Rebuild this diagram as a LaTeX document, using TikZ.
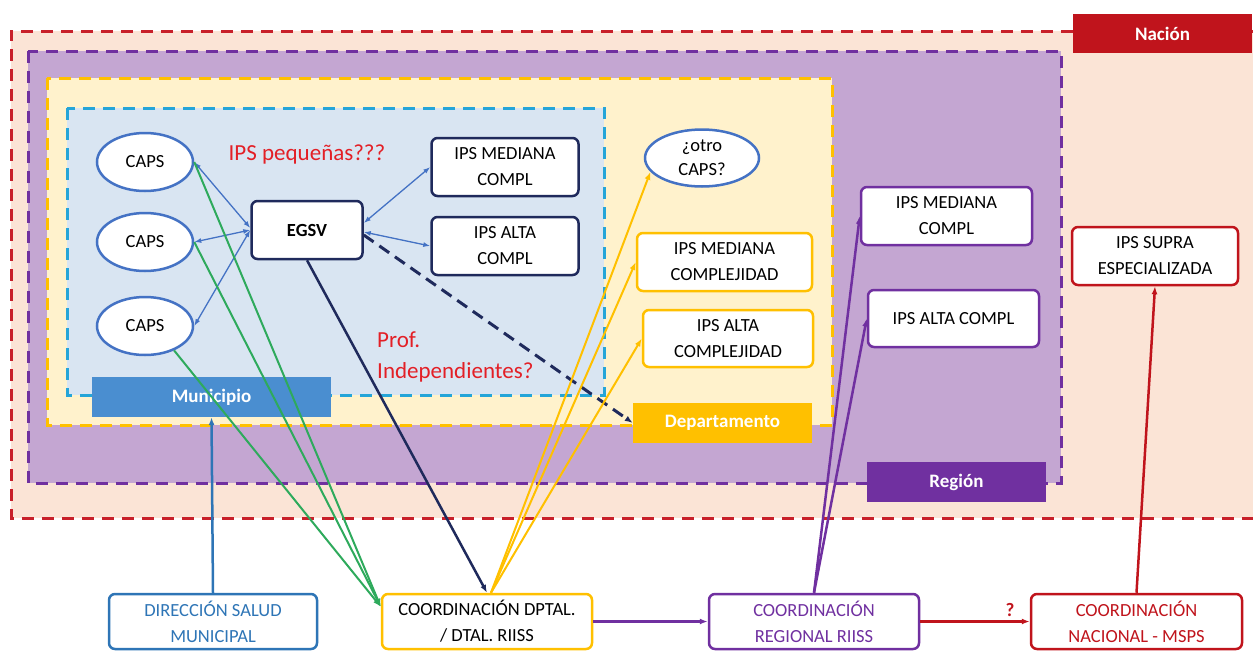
\documentclass[tikz,border=0pt]{standalone}
\usepackage{fontspec}
\setmainfont{Carlito}
\usetikzlibrary{arrows.meta,shapes.geometric}
\definecolor{peach}{HTML}{FBE4D6}
\definecolor{lav}{HTML}{C4A6D2}
\definecolor{ylight}{HTML}{FFF2CC}
\definecolor{blight}{HTML}{D9E5F2}
\definecolor{redd}{HTML}{C8202A}
\definecolor{purp}{HTML}{7030A0}
\definecolor{gold}{HTML}{FFC000}
\definecolor{cyand}{HTML}{25A5D8}
\definecolor{munib}{HTML}{4A8ED0}
\definecolor{navy}{HTML}{1F2A5C}
\definecolor{capsb}{HTML}{4472C4}
\definecolor{dirb}{HTML}{2E75B6}
\definecolor{grn}{HTML}{2EAA5C}
\definecolor{txtred}{HTML}{E31F26}
\definecolor{natred}{HTML}{C0141C}
\begin{document}
\begin{tikzpicture}[x=1pt,y=-1pt,
  zoneline/.style={line width=3pt,dash pattern=on 12pt off 8pt},
  tag/.style={inner sep=0pt,text=white,font=\fontsize{19}{22}\selectfont\bfseries},
  boxn/.style={draw,fill=white,rounded corners=6pt,line width=2.5pt,inner sep=0pt,align=center,font=\fontsize{18.5}{26}\selectfont},
  capsn/.style={ellipse,draw=capsb,fill=white,line width=2.5pt,inner sep=0pt,align=center,font=\fontsize{18.5}{24}\selectfont,minimum width=96pt,minimum height=58pt},
  tip/.style={-{Latex[length=8pt,width=6pt]}},
  bitip/.style={{Latex[length=7pt,width=5pt]}-{Latex[length=7pt,width=5pt]}},
  redtxt/.style={text=txtred,font=\fontsize{23}{31}\selectfont,inner sep=0pt}
]
\useasboundingbox (0,0) rectangle (1253,651);
% zones
\fill[peach] (11,31) rectangle (1253,518);
\draw[zoneline,draw=redd] (1253,31) -- (11,31) -- (11,518) -- (1253,518);
\filldraw[zoneline,draw=purp,fill=lav] (28,51) rectangle (1061,483);
\filldraw[zoneline,draw=gold,fill=ylight] (47,78) rectangle (832,425);
\filldraw[zoneline,draw=cyand,fill=blight] (67,108) rectangle (604,395);
% zone tags
\node[tag,fill=natred,minimum width=179pt,minimum height=39pt] (nacion) at (1162.5,33.5) {Nación};
\node[tag,fill=purp,minimum width=179pt,minimum height=40pt] (region) at (956.5,482) {Región};
\node[tag,fill=gold,minimum width=179pt,minimum height=40pt] (dep) at (722.5,423) {Departamento};
\node[tag,fill=munib,minimum width=239pt,minimum height=40pt] (muni) at (211.5,397) {Municipio};
% municipio contents
\node[capsn] (c1) at (145,162) {CAPS};
\node[capsn] (c2) at (145,242) {CAPS};
\node[capsn] (c3) at (145,326) {CAPS};
\node[boxn,draw=navy,minimum width=111pt,minimum height=58pt,font=\fontsize{18.5}{22}\selectfont\bfseries] (egsv) at (307,230) {EGSV};
\node[boxn,draw=navy,minimum width=147pt,minimum height=58pt] (mm) at (505,167) {IPS MEDIANA\\COMPL};
\node[boxn,draw=navy,minimum width=147pt,minimum height=58pt] (ma) at (505,246) {IPS ALTA\\COMPL};
\node[redtxt] (peq) at (307,154) {IPS pequeñas???};
\node[redtxt,align=left,anchor=west] (prof) at (377,357) {Prof.\\Independientes?};
% departamento contents
\node[capsn,minimum width=114pt,minimum height=57pt] (otro) at (702,158) {¿otro\\CAPS?};
\node[boxn,draw=gold,minimum width=175pt,minimum height=58pt] (dm) at (724.5,262) {IPS MEDIANA\\COMPLEJIDAD};
\node[boxn,draw=gold,minimum width=170pt,minimum height=57pt] (da) at (728,338.5) {IPS ALTA\\COMPLEJIDAD};
% region contents
\node[boxn,draw=purp,minimum width=171pt,minimum height=58pt] (rm) at (946.5,216) {IPS MEDIANA\\COMPL};
\node[boxn,draw=purp,minimum width=171pt,minimum height=57pt] (ra) at (953.5,318.5) {IPS ALTA COMPL};
% nacion contents
\node[boxn,draw=natred,minimum width=166pt,minimum height=58pt] (supra) at (1155,256) {IPS SUPRA\\ESPECIALIZADA};
% bottom row
\node[boxn,draw=dirb,text=dirb,minimum width=208pt,minimum height=55pt] (dir) at (213,621.5) {DIRECCIÓN SALUD\\MUNICIPAL};
\node[boxn,draw=gold,minimum width=210pt,minimum height=55pt] (cdep) at (487,621.5) {COORDINACIÓN DPTAL.\\/ DTAL. RIISS};
\node[boxn,draw=purp,text=purp,minimum width=210pt,minimum height=55pt] (creg) at (814,621.5) {COORDINACIÓN\\REGIONAL RIISS};
\node[boxn,draw=natred,text=natred,minimum width=211pt,minimum height=55pt] (cnac) at (1136.5,621.5) {COORDINACIÓN\\NACIONAL - MSPS};
\coordinate (gin) at ([yshift=-14pt]cdep.north west);
% blue double arrows
\begin{scope}[draw=capsb,line width=1.3pt]
\draw[bitip] (c1.east) -- ([yshift=2pt]egsv.west);
\draw[bitip] (c2.east) -- (egsv.west);
\draw[bitip] (c3.east) -- (egsv.west);
\draw[bitip] ([yshift=7pt]egsv.east) -- (mm.west);
\draw[bitip] ([yshift=-2pt]egsv.east) -- (ma.west);
\end{scope}
% green
\begin{scope}[draw=grn,line width=2pt]
\draw[tip] (c1.east) -- (gin);
\draw[tip] (c2.east) -- (gin);
\draw[tip] (c3.-40) -- (gin);
\end{scope}
% navy
\draw[tip,draw=navy,line width=2.5pt] (egsv.south) -- (cdep.north);
\draw[tip,draw=navy,line width=3pt,dash pattern=on 12pt off 7pt] ([yshift=-5pt]egsv.east) -- (dep.west);
% yellow
\begin{scope}[draw=gold,line width=2pt]
\draw[tip] ([xshift=4pt]cdep.north) -- (otro.195);
\draw[tip] ([xshift=4pt]cdep.north) -- (dm.west);
\draw[tip] ([xshift=4pt]cdep.north) -- (da.west);
\end{scope}
% blue up
\draw[tip,draw=dirb,line width=2.5pt] (dir.north) -- (muni.south);
% purple
\begin{scope}[draw=purp,line width=2.5pt]
\draw[tip] (cdep.east) -- (creg.west);
\draw[tip] (creg.north) -- (rm.west);
\draw[tip] (creg.north) -- (ra.west);
\end{scope}
% red
\draw[tip,draw=natred,line width=2.5pt] (creg.east) -- node[pos=0.82,above=4pt,text=natred,font=\fontsize{19}{22}\selectfont\bfseries,inner sep=0pt] (q) {?} (cnac.west);
\draw[tip,draw=natred,line width=2.5pt] (cnac.north) -- (supra.south);
\end{tikzpicture}
\end{document}
